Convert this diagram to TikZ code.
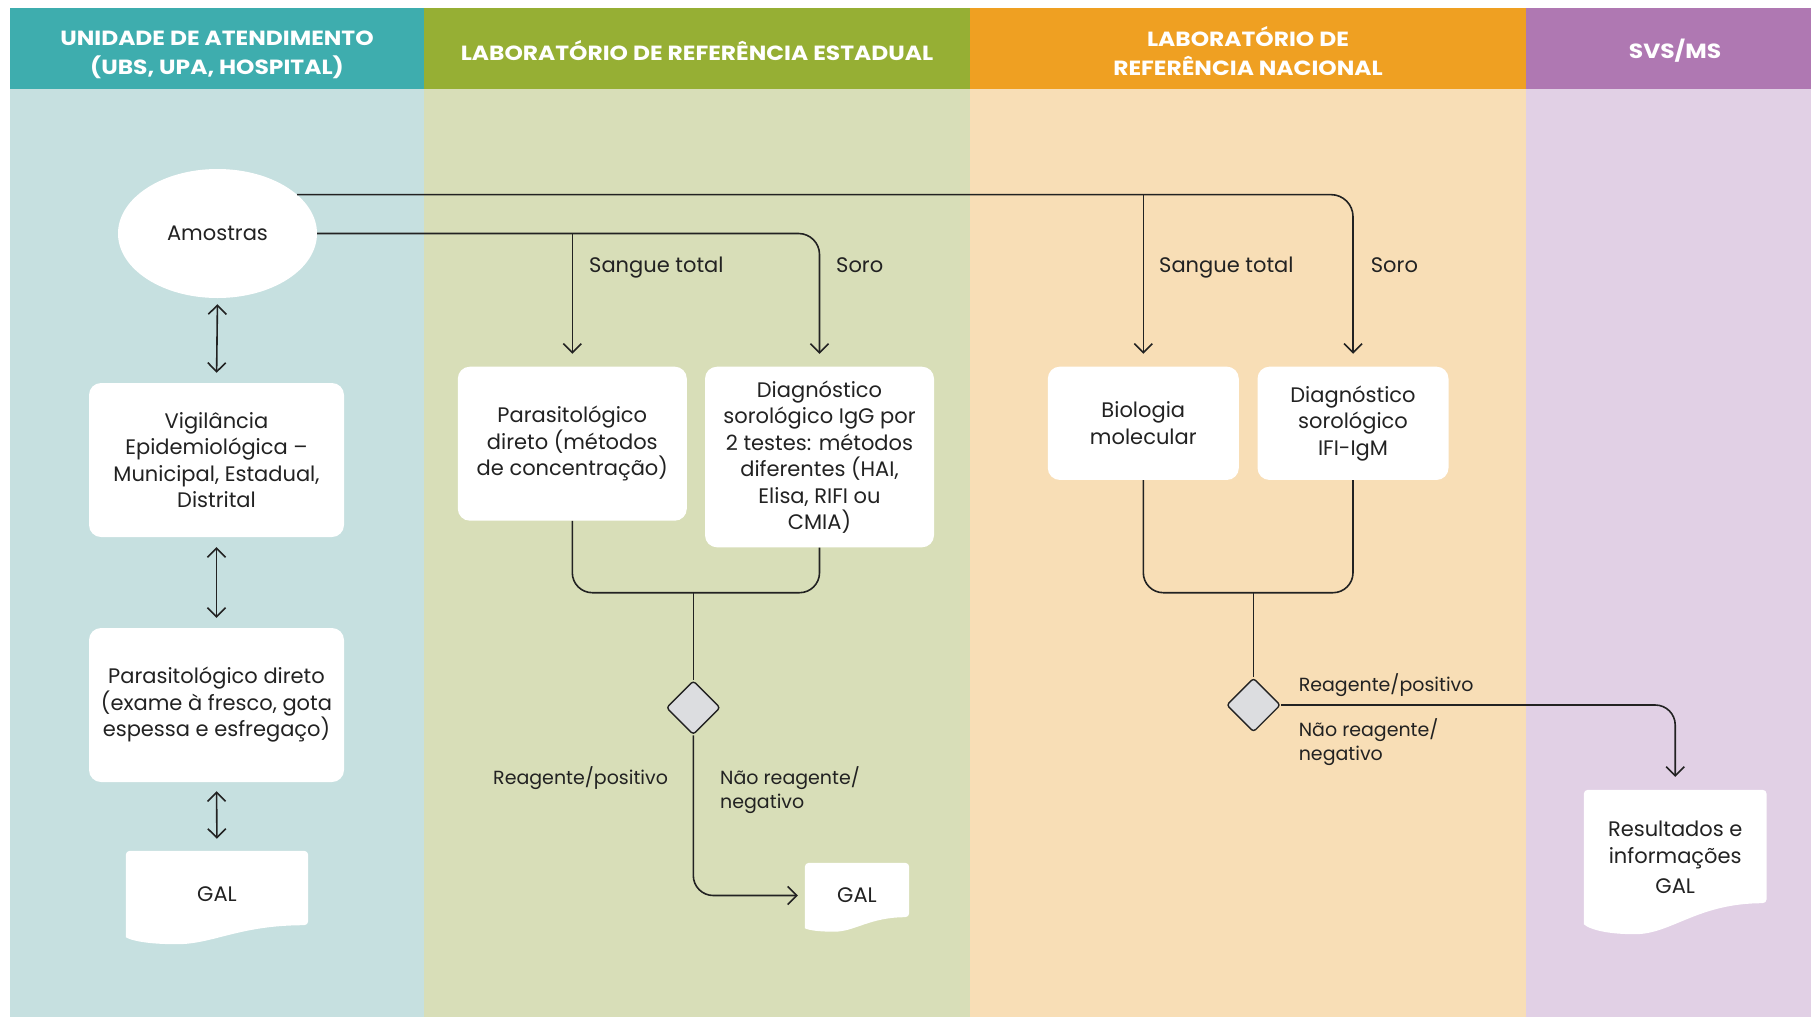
\documentclass[tikz,border=0pt]{standalone}
\usepackage{fontspec}
\setmainfont{Poppins}
\newfontfamily\headfont[FakeStretch=1.14]{Poppins}
\usetikzlibrary{arrows.meta,shapes.geometric,calc}

\pgfdeclarelayer{lanes}
\pgfdeclarelayer{docs}
\pgfsetlayers{lanes,docs,main}

\definecolor{hTeal}{RGB}{62,173,174}
\definecolor{hGreen}{RGB}{150,175,52}
\definecolor{hOrange}{RGB}{239,160,34}
\definecolor{hPurple}{RGB}{175,120,178}
\definecolor{bTeal}{RGB}{198,224,224}
\definecolor{bGreen}{RGB}{216,222,184}
\definecolor{bOrange}{RGB}{248,222,182}
\definecolor{bPurple}{RGB}{225,208,229}
\definecolor{ink}{RGB}{34,34,34}
\definecolor{diamgray}{RGB}{220,221,224}

% white sheet with a wavy lower edge, drawn around a node
\newcommand\docsheet[3]{% node, rise of the right end, depth of the dip
  \fill[white] (#1.south west) [rounded corners=4pt] -- (#1.north west) -- (#1.north east)
    -- ($(#1.south east)+(0,-#2)$) [sharp corners]
    .. controls ($(#1.south west)!0.62!(#1.south east)+(0,-#2)$)
            and ($(#1.south west)!0.48!(#1.south east)+(0,#3)$)
    .. ($(#1.south west)!0.28!(#1.south east)+(0,#3)$)
    .. controls ($(#1.south west)!0.12!(#1.south east)+(0,#3)$)
            and ($(#1.south west)!0.03!(#1.south east)+(0,0.5*#3)$)
    .. (#1.south west) -- cycle;}

\tikzset{
  lanehead/.style={text=white, align=center, inner sep=0pt,
    font=\headfont\fontsize{20.5}{29}\selectfont\bfseries},
  stepbox/.style={fill=white, rounded corners=12pt, align=center, inner sep=0pt,
    text=ink, font=\fontsize{21}{26.5}\selectfont},
  docbox/.style={inner sep=0pt, align=center, text=ink,
    font=\fontsize{21}{27}\selectfont},
  flow/.style={draw=ink, line width=1.6pt},
  arr/.style={flow, -{Straight Barb[length=9pt,width=18pt]}},
  dbl/.style={flow, {Straight Barb[length=9pt,width=18pt]}-{Straight Barb[length=9pt,width=18pt]}},
  tag/.style={anchor=west, align=left, inner sep=0pt, text=ink,
    font=\fontsize{19}{24}\selectfont},
  branch/.style={anchor=base west, inner sep=0pt, text=ink,
    font=\fontsize{21}{26}\selectfont},
  decision/.style={diamond, aspect=1, minimum width=54pt, minimum height=54pt,
    inner sep=0pt, fill=diamgray, draw=ink, line width=1.4pt, rounded corners=3pt}
}

\begin{document}
\begin{tikzpicture}[x=1pt,y=-1pt]
\useasboundingbox (0,0) rectangle (1811,1017);

% swimlanes
\begin{pgfonlayer}{lanes}
  \fill[bTeal]   (10,88.7)  rectangle (424,1017);
  \fill[bGreen]  (424,88.7) rectangle (970,1017);
  \fill[bOrange] (970,88.7) rectangle (1526,1017);
  \fill[bPurple] (1526,88.7) rectangle (1811,1017);
  \fill[hTeal]   (10,8)  rectangle (424,88.7);
  \fill[hGreen]  (424,8) rectangle (970,88.7);
  \fill[hOrange] (970,8) rectangle (1526,88.7);
  \fill[hPurple] (1526,8) rectangle (1811,88.7);
\end{pgfonlayer}

\node[lanehead] (h1) at (217,55) {UNIDADE DE ATENDIMENTO\\(UBS, UPA, HOSPITAL)};
\node[lanehead] (h2) at (697,51) {LABORATÓRIO DE REFERÊNCIA ESTADUAL};
\node[lanehead] (h3) at (1248,51) {LABORATÓRIO DE\\REFERÊNCIA NACIONAL};
\node[lanehead] (h4) at (1675,51) {SVS/MS};

% first lane
\node[ellipse, fill=white, minimum width=199pt, minimum height=129pt, inner sep=0pt,
      text=ink, font=\fontsize{21}{26.5}\selectfont] (amostras) at (217.5,233.5) {Amostras};
\node[stepbox, minimum width=255pt, minimum height=154pt] (vig) at (216.5,460)
  {Vigilância\\Epidemiológica –\\Municipal, Estadual,\\Distrital};
\node[stepbox, minimum width=255pt, minimum height=154pt] (para1) at (216.5,705)
  {Parasitológico direto\\(exame à fresco, gota\\espessa e esfregaço)};
\node[docbox, minimum width=182pt, minimum height=86pt] (gal1) at (217,894) {GAL};

% state reference laboratory
\node[stepbox, minimum width=229pt, minimum height=154pt] (para2) at (572.3,443.7)
  {Parasitológico\\direto (métodos\\de concentração)};
\node[stepbox, minimum width=229pt, minimum height=180.6pt] (diag1) at (819.5,457)
  {Diagnóstico\\sorológico IgG por\\2 testes: métodos\\diferentes (HAI,\\Elisa, RIFI ou\\CMIA)};
\node[decision] (dec2) at (693.3,707.7) {};
\coordinate (m2) at (693.3,592.7);
\node[docbox, minimum width=104pt, minimum height=65pt] (gal2) at (857,895.5) {GAL};

% national reference laboratory
\node[stepbox, minimum width=191pt, minimum height=113.3pt] (biol) at (1143.3,423.3)
  {Biologia\\molecular};
\node[stepbox, minimum width=191pt, minimum height=113.3pt] (ifi) at (1353,423.3)
  {Diagnóstico\\sorológico\\IFI-IgM};
\node[decision] (dec3) at (1253.5,705) {};
\coordinate (m3) at (1253.5,592.7);

% SVS/MS
\node[docbox, minimum width=182.4pt, minimum height=134pt] (res) at (1675.2,857)
  {Resultados e\\informações\\[3pt]GAL};

\begin{pgfonlayer}{docs}
  \docsheet{gal1}{12}{7}
  \docsheet{gal2}{11}{3.5}
  \docsheet{res}{21}{10}
\end{pgfonlayer}

% connectors
\draw[dbl, shorten <=6pt, shorten >=10pt] (amostras.south) -- (vig.north);
\draw[dbl, shorten <=10pt, shorten >=10pt] (vig.south) -- (para1.north);
\draw[dbl, shorten <=9pt, shorten >=12pt] (para1.south) -- (gal1.north);

\draw[arr, rounded corners=21pt, shorten >=12.7pt] (amostras.east) -| (diag1.north);
\draw[arr, shorten >=12.7pt] (amostras.east -| para2.north) -- (para2.north);
\draw[arr, rounded corners=22pt, shorten >=12.7pt] (amostras.26.6) -| (ifi.north);
\draw[arr, shorten >=12.7pt] (amostras.26.6 -| biol.north) -- (biol.north);

\draw[flow, rounded corners=20pt] (para2.south) |- (m2) -| (diag1.south);
\draw[flow] (m2) -- (dec2.north);
\draw[arr, rounded corners=20pt, shorten >=7pt] (dec2.south) |- (gal2.west);

\draw[flow, rounded corners=20pt] (biol.south) |- (m3) -| (ifi.south);
\draw[flow] (m3) -- (dec3.north);
\draw[arr, rounded corners=20pt, shorten >=13pt] (dec3.east) -| (res.north);

% branch labels
\node[branch] (st1) at (589,272.5) {Sangue total};
\node[branch] (so1) at (836,272.5) {Soro};
\node[branch] (st2) at (1159,272.5) {Sangue total};
\node[branch] (so2) at (1370.7,272.5) {Soro};

\node[tag] (pos2) at (493,778) {Reagente/positivo};
\node[tag] (neg2) at (720,790) {Não reagente/\\negativo};
\node[tag] (pos3) at (1298.6,685) {Reagente/positivo};
\node[tag] (neg3) at (1298.6,741.7) {Não reagente/\\negativo};
\end{tikzpicture}
\end{document}
